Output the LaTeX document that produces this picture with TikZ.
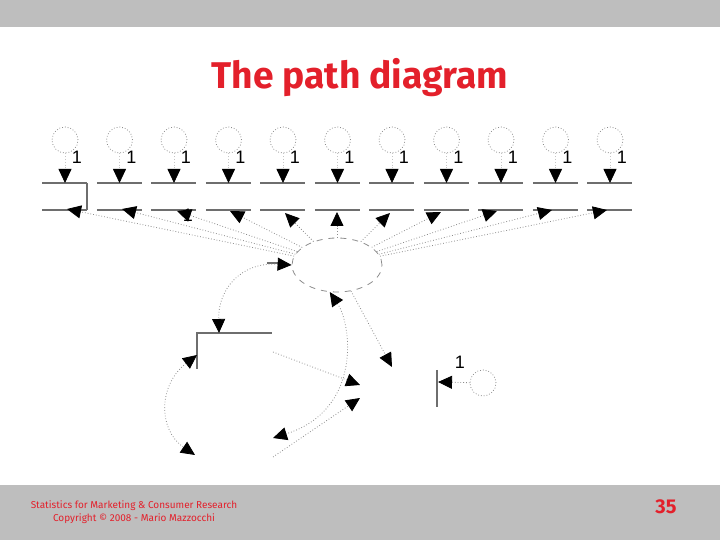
\documentclass[tikz,border=0pt]{standalone}
\usepackage{fontspec}
\setmainfont{Liberation Sans}
\newfontfamily\slidefont{Fira Sans}
\usetikzlibrary{arrows.meta,shapes.geometric}
\definecolor{slidered}{HTML}{E3202B}
\definecolor{bandgray}{HTML}{BEBEBE}
\definecolor{pathgray}{HTML}{8C8C8C}
\definecolor{edgegray}{HTML}{6E6E6E}

\begin{document}
\begin{tikzpicture}[x=0.5pt,y=-0.5pt,
  onehead/.style={-{Triangle[length=7pt,width=6.5pt,color=black]}},
  twohead/.style={{Triangle[length=7pt,width=6.5pt,color=black]}-{Triangle[length=7pt,width=6.5pt,color=black]}},
  pathline/.style={draw=pathgray, densely dotted, line width=0.4pt},
  boxedge/.style={draw=edgegray, line width=0.6pt},
  err/.style={circle, draw=pathgray, densely dotted, minimum size=13pt, inner sep=0pt},
  latent/.style={ellipse, draw=pathgray, dashed, minimum width=45pt, minimum height=27pt, inner sep=0pt},
  one/.style={font=\fontsize{9}{9}\selectfont, inner sep=0pt}]
	% slide frame
	\useasboundingbox (0,0) rectangle (720,540);
	\fill[bandgray] (0,0) rectangle (720,27);
	\fill[bandgray] (0,485) rectangle (720,540);
	\node[text=slidered, font=\slidefont\bfseries\fontsize{18.6}{18.6}\selectfont] (title) at (360,78) {The path diagram};
	% indicators with their errors
	\foreach \i in {1,...,11} {
		\pgfmathsetmacro\cx{65+54.5*(\i-1)}
		\node[err] (e\i) at (\cx,140) {};
		\node[one] (l\i) at (\cx+12,157) {1};
		\coordinate (t\i) at (\cx,183);
		\draw[boxedge] (\cx-22.5,183) -- (\cx+22.5,183);
		\draw[boxedge] (\cx-22.5,210) -- (\cx+22.5,210);
		\draw[pathline, draw=pathgray!50, onehead] (e\i) -- (t\i);
	}
	\draw[boxedge] (87,183) -- (87,210);
	% latent factor
	\node[latent] (F) at (337,265) {};
	\coordinate (b1) at (67,209);
	\coordinate (b2) at (122,209);
	\coordinate (b3) at (177,211);
	\coordinate (b4) at (230,211);
	\coordinate (b5) at (285,213);
	\coordinate (b6) at (337,212);
	\coordinate (b7) at (390,213);
	\coordinate (b8) at (441,212);
	\coordinate (b9) at (497,211);
	\coordinate (b10) at (552,210);
	\coordinate (b11) at (607,210);
	\foreach \i in {1,...,11}
		\draw[pathline, onehead] (F) -- (b\i);
	\node[one] (l0) at (188,215) {1};
	% lower part
	\draw[boxedge] (267,263) -- (282,263);
	\coordinate (bt) at (219,333);
	\coordinate (bl) at (197,355);
	\coordinate (bb) at (195,455);
	\draw[boxedge] (272,333) -- (197,333) -- (197,369);
	\draw[pathline, twohead] (F.west) .. controls (240,262) and (218,290) .. (bt);
	\draw[pathline, twohead] (bl) .. controls (158,385) and (158,430) .. (bb);
	\coordinate (d1) at (273,438);
	\draw[pathline, twohead] (F.255) .. controls (352,325) and (362,410) .. (d1);
	\coordinate (r1) at (392,367);
	\draw[pathline, onehead] (F) -- (r1);
	\coordinate (g0) at (273,352);
	\coordinate (g1) at (360,385);
	\draw[pathline, onehead] (g0) -- (g1);
	\coordinate (h0) at (273,457);
	\coordinate (h1) at (360,398);
	\draw[pathline, onehead] (h0) -- (h1);
	% dependent error
	\node[err] (e12) at (483,383) {};
	\node[one] (l12) at (460,362) {1};
	\coordinate (v12) at (438,382);
	\draw[boxedge] (437,370) -- (437,407);
	\draw[pathline, onehead] (e12) -- (v12);
	% footer
	\node[text=slidered, font=\slidefont\fontsize{5}{6.5}\selectfont, align=center] (foot) at (134,512) {Statistics for Marketing \& Consumer Research\\Copyright \textcopyright{} 2008 - Mario Mazzocchi};
	\node[text=slidered, font=\slidefont\bfseries\fontsize{10}{10}\selectfont] (page) at (666,507) {35};
\end{tikzpicture}
\end{document}
